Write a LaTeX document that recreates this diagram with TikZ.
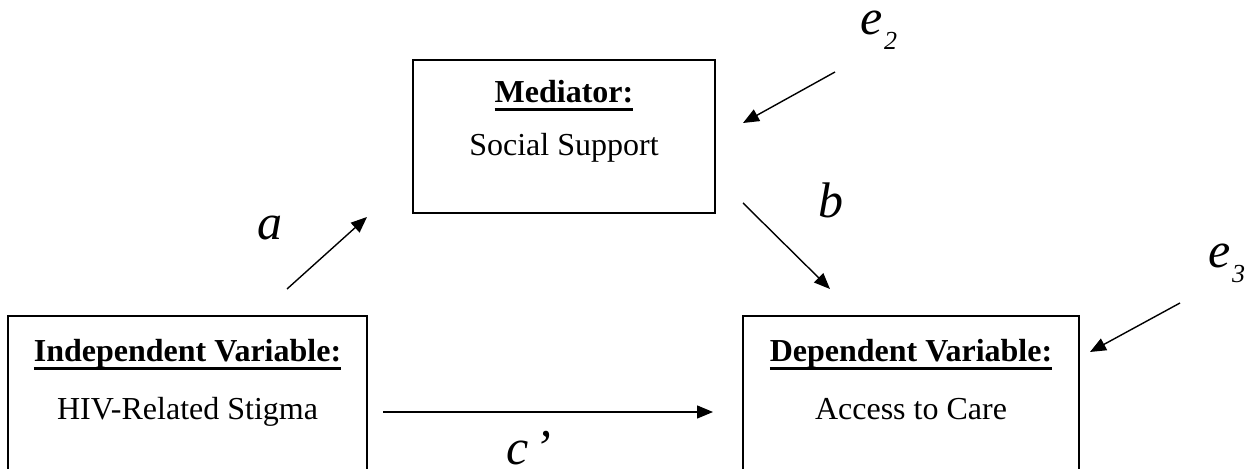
\documentclass[tikz,border=0pt]{standalone}
\usepackage{fontspec}
\setmainfont{Liberation Serif}
\usetikzlibrary{arrows.meta}
% bold heading with a heavy underline
\newcommand\headline[1]{\setbox0\hbox{\bfseries #1}\rlap{\rule[-4pt]{\wd0}{1.4pt}}\box0}
% italic error term with a lowered subscript
\newcommand\errterm[1]{e\kern0.8pt\raisebox{-7.5pt}{\fontsize{13}{15}\selectfont #1}}
\begin{document}
\begin{tikzpicture}[x=0.5pt,y=-0.5pt,
  varbox/.style={draw, line width=1.3pt, rectangle, inner sep=0pt},
  body/.style={font=\fontsize{16}{19}\selectfont, inner sep=0pt, anchor=base},
  coef/.style={font=\fontsize{25}{30}\selectfont\itshape, inner sep=0pt, anchor=base west},
  effect/.style={line width=0.7pt, -{Triangle[length=8pt,width=6.5pt]}}]
\clip (0,0) rectangle (1254,469);

% variable boxes
\node[varbox, minimum width=151pt, minimum height=76.5pt] (med) at (564,136.5) {};
\node[varbox, minimum width=179.5pt, minimum height=92pt] (iv) at (187.5,408) {};
\node[varbox, minimum width=168pt, minimum height=92pt] (dv) at (911,408) {};

% box texts
\node[body] (medH) at (564,103) {\headline{Mediator:}};
\node[body] (medB) at (564,156) {Social Support};
\node[body] (ivH) at (187.5,362) {\headline{Independent Variable:}};
\node[body] (ivB) at (187.5,420) {HIV-Related Stigma};
\node[body] (dvH) at (911,362) {\headline{Dependent Variable:}};
\node[body] (dvB) at (911,420) {Access to Care};

% arrow ends
\coordinate (aS) at (287,289);  \coordinate (aE) at (367,217);
\coordinate (bS) at (743,203);  \coordinate (bE) at (830,289);
\coordinate (cS) at (383,412);  \coordinate (cE) at (713,412);
\coordinate (e2S) at (835,72);  \coordinate (e2E) at (743,123);
\coordinate (e3S) at (1180,303); \coordinate (e3E) at (1090,352);

% paths
\draw[effect] (aS) -- (aE);
\draw[effect] (bS) -- (bE);
\draw[effect] (cS) -- (cE);
\draw[effect] (e2S) -- (e2E);
\draw[effect] (e3S) -- (e3E);

% path coefficients and error terms
\node[coef] (la) at (257,240) {a};
\node[coef] (lb) at (818,218) {b};
\node[coef] (lc) at (506,465) {c\kern3pt’};
\node[coef] (le2) at (860,35) {\errterm{2}};
\node[coef] (le3) at (1208,268) {\errterm{3}};
\end{tikzpicture}
\end{document}
